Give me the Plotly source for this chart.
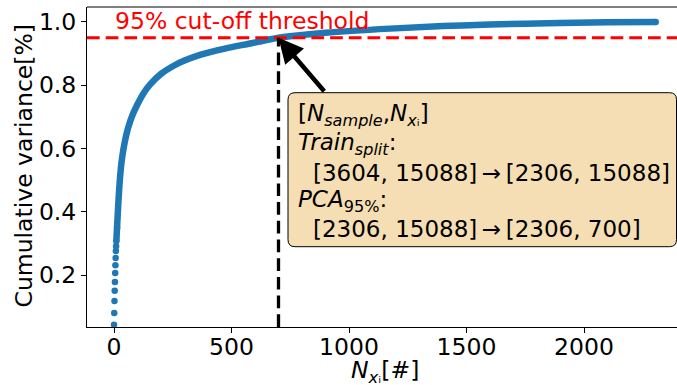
import plotly.graph_objects as go

# ---- data ----
comp_idx = [0, 1, 2, 3, 4, 5, 6, 7, 8, 9, 10, 13, 17, 22, 27, 34, 45, 60, 80, 100,
            126, 153, 200, 260, 300, 366, 472, 579, 640, 700, 749, 900, 1174, 1400,
            1600, 1898, 2100, 2305]
cum_var = [0.043, 0.080, 0.118, 0.150, 0.178, 0.206, 0.231, 0.254, 0.276, 0.291,
           0.307, 0.350, 0.408, 0.470, 0.520, 0.568, 0.618, 0.665, 0.708, 0.740,
           0.775, 0.802, 0.836, 0.864, 0.878, 0.896, 0.916, 0.932, 0.9415, 0.950,
           0.955, 0.966, 0.979, 0.987, 0.992, 0.997, 0.999, 1.000]
threshold = 0.95
n_components = 700
x_ticks = [0, 500, 1000, 1500, 2000]
y_ticks = [0.2, 0.4, 0.6, 0.8, 1.0]
y_ticklabels = ["0.2", "0.4", "0.6", "0.8", "1.0"]
x_range = [-114.9, 2395.7]
y_range = [0.0356, 1.0474]

box_lines = [
    "[<i>N</i><sub><i>sample</i></sub>,<i>N</i><sub><i>x</i>ᵢ</sub>]",
    "<i>Train</i><sub><i>split</i></sub>:",
    "[3604, 15088]\u2009→\u2009[2306, 15088]",
    "<i>PCA</i><sub>95%</sub>:",
    "[2306, 15088]\u2009→\u2009[2306, 700]",
]
box_indent = [0, 0, 1, 0, 1]

W, H = 677, 385
L, R, T, B = 87, 0, 7, 58
PW, PH = W - L - R, H - T - B
FONT = "DejaVu Sans"
FS = 23.5
BLUE = "#1f77b4"


def pxx(px):
    return (px - L) / PW


def pxy(py):
    return (H - B - py) / PH


fig = go.Figure()
n_dots = 12
fig.add_trace(go.Scatter(x=comp_idx[:n_dots], y=cum_var[:n_dots], mode="markers",
                         marker=dict(color=BLUE, size=6.5, line=dict(width=0)),
                         hoverinfo="skip", showlegend=False))
fig.add_trace(go.Scatter(x=comp_idx[n_dots - 2:], y=cum_var[n_dots - 2:], mode="lines",
                         line=dict(color=BLUE, width=6.5, shape="spline", smoothing=1.0),
                         hoverinfo="skip", showlegend=False))
fig.add_trace(go.Scatter(x=[comp_idx[-1]], y=[cum_var[-1]], mode="markers",
                         marker=dict(color=BLUE, size=6.5, line=dict(width=0)),
                         hoverinfo="skip", showlegend=False))

shapes = []
# top spine
shapes.append(dict(type="line", xref="paper", yref="paper", x0=0, x1=1, y0=1, y1=1,
                   line=dict(color="black", width=1.1), layer="above"))
# red threshold
shapes.append(dict(type="line", xref="paper", yref="y", x0=0, x1=1, y0=threshold, y1=threshold,
                   line=dict(color="red", width=3, dash="12.7px,6px"), layer="above"))
# vertical line
shapes.append(dict(type="line", xref="x", yref="y", x0=n_components, x1=n_components,
                   y0=y_range[0], y1=threshold,
                   line=dict(color="black", width=3.3, dash="12.7px,6px"), layer="above"))

# rounded box
bx0, bx1, by0, by1, r = 288, 676.5, 92.7, 246.7, 7
path = (f"M {pxx(bx0 + r)},{pxy(by0)} L {pxx(bx1 - r)},{pxy(by0)} "
        f"Q {pxx(bx1)},{pxy(by0)} {pxx(bx1)},{pxy(by0 + r)} "
        f"L {pxx(bx1)},{pxy(by1 - r)} Q {pxx(bx1)},{pxy(by1)} {pxx(bx1 - r)},{pxy(by1)} "
        f"L {pxx(bx0 + r)},{pxy(by1)} Q {pxx(bx0)},{pxy(by1)} {pxx(bx0)},{pxy(by1 - r)} "
        f"L {pxx(bx0)},{pxy(by0 + r)} Q {pxx(bx0)},{pxy(by0)} {pxx(bx0 + r)},{pxy(by0)} Z")
shapes.append(dict(type="path", xref="paper", yref="paper", path=path,
                   fillcolor="#f5deb3", line=dict(color="black", width=1), layer="above"))

annotations = []
# arrow
annotations.append(dict(x=n_components, y=threshold, xref="x", yref="y", text="",
                        showarrow=True, ax=47, ay=55, arrowhead=2, arrowsize=1.1,
                        arrowwidth=4.5, arrowcolor="black", standoff=0))
# red label
annotations.append(dict(x=0, y=pxy(21), xref="x", yref="paper", text="95% cut-off threshold",
                        showarrow=False, xanchor="left", yanchor="middle",
                        font=dict(family=FONT, size=FS, color="red"), borderpad=0))
# box text lines
baselines = [123.3, 151.7, 181, 208.5, 236.7]
for line, ind, bl in zip(box_lines, box_indent, baselines):
    annotations.append(dict(x=pxx(296.7 + 15 * ind), y=pxy(bl - 8), xref="paper", yref="paper",
                            text=line, showarrow=False, xanchor="left", yanchor="middle",
                            font=dict(family=FONT, size=23, color="black"), borderpad=0))
# axis titles
annotations.append(dict(x=pxx(23), y=pxy(166.5), xref="paper", yref="paper",
                        text="Cumulative variance[%]", textangle=-90, showarrow=False,
                        xanchor="center", yanchor="middle",
                        font=dict(family=FONT, size=FS, color="black")))
annotations.append(dict(x=pxx(385), y=pxy(387.5), xref="paper", yref="paper",
                        text="<i>N</i><sub><i>x</i>ᵢ</sub>[#]", showarrow=False,
                        xanchor="center", yanchor="bottom", borderpad=0,
                        font=dict(family=FONT, size=FS, color="black")))

axis_common = dict(showgrid=False, zeroline=False, showline=True, linecolor="black",
                   linewidth=1.1, ticks="outside", ticklen=5, tickwidth=1.1,
                   tickcolor="black", tickfont=dict(family=FONT, size=FS, color="black"))

fig.update_layout(
    width=W, height=H, autosize=False,
    margin=dict(l=L, r=R, t=T, b=B, autoexpand=False),
    paper_bgcolor="white", plot_bgcolor="white",
    xaxis=dict(range=x_range, tickvals=x_ticks, ticklabelstandoff=-6, **axis_common),
    yaxis=dict(range=y_range, tickvals=y_ticks, ticktext=y_ticklabels, **axis_common),
    shapes=shapes, annotations=annotations, showlegend=False,
)

fig.write_html("out.html", config={"displayModeBar": False},
               post_script="document.body.style.margin='0';")
